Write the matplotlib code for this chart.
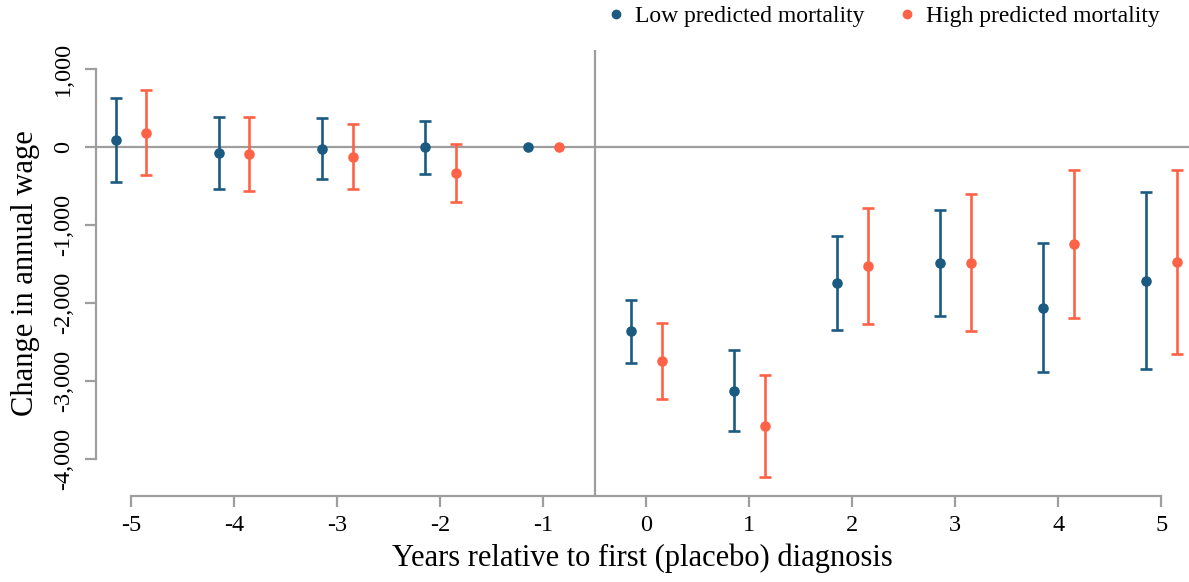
import numpy as np
import matplotlib
matplotlib.use("Agg")
import matplotlib.pyplot as plt
from matplotlib.lines import Line2D
from matplotlib.ticker import FuncFormatter

years = [-5, -4, -3, -2, -1, 0, 1, 2, 3, 4, 5]
low_est = [86, -77, -21, -4, 0, -2359, -3124, -1748, -1491, -2060, -1718]
low_hi = [624, 381, 368, 338, 0, -1957, -2603, -1141, -803, -1235, -581]
low_lo = [-453, -538, -414, -350, 0, -2765, -3645, -2350, -2171, -2880, -2850]
high_est = [184, -90, -124, -333, 0, -2744, -3577, -1530, -1491, -1244, -1472]
high_hi = [727, 389, 295, 38, 0, -2261, -2919, -786, -607, -299, -299]
high_lo = [-355, -564, -538, -705, 0, -3231, -4231, -2274, -2363, -2188, -2658]
series_names = ["Low predicted mortality", "High predicted mortality"]
y_ticks = [1000, 0, -1000, -2000, -3000, -4000]

BLUE = "#1b5b82"
ORANGE = "#ff6347"
GRAY = "#9e9e9e"

plt.rcParams['font.family'] = ['Liberation Serif', 'DejaVu Serif']

W, H = 1189, 582
fig = plt.figure(figsize=(W / 100, H / 100), dpi=100)
ax = fig.add_axes([96 / W, (H - 496) / H, (W - 96) / W, (496 - 50) / H])

ax.set_xlim(-5.34, 5.27)
ax.set_ylim(-4474, 1244)

ax.axhline(0, color=GRAY, lw=1.6, zorder=1)
ax.axvline(-0.5, color=GRAY, lw=1.6, zorder=1)

x = np.array(years, dtype=float)
for est, lo, hi, col, off in [
    (low_est, low_lo, low_hi, BLUE, -0.15),
    (high_est, high_lo, high_hi, ORANGE, 0.15),
]:
    est = np.array(est, dtype=float)
    lo = np.array(lo, dtype=float)
    hi = np.array(hi, dtype=float)
    m = hi != lo
    ax.errorbar(x[m] + off, est[m], yerr=[est[m] - lo[m], hi[m] - est[m]],
                fmt='none', ecolor=col, elinewidth=1.9, capsize=4.5,
                capthick=1.9, zorder=3)
    ax.plot(x + off, est, 'o', color=col, markersize=7.6, zorder=4,
            markeredgewidth=0)

for s in ['top', 'right']:
    ax.spines[s].set_visible(False)
for s in ['left', 'bottom']:
    ax.spines[s].set_color(GRAY)
    ax.spines[s].set_linewidth(1.6)
ax.spines['left'].set_bounds(-4000, 1000)
ax.spines['bottom'].set_bounds(-5, 5)

ax.set_xticks(years)
ax.set_xticklabels([str(v) for v in years])
ax.set_yticks(y_ticks)
ax.yaxis.set_major_formatter(FuncFormatter(lambda v, p: f"{int(v):,}"))
ax.tick_params(axis='both', colors=GRAY, length=8, width=1.6, labelsize=17.5,
               labelcolor='black')
ax.tick_params(axis='x', pad=6)
ax.tick_params(axis='y', pad=8)
for lab in ax.get_yticklabels():
    lab.set_rotation(90)
    lab.set_va('center')

ax.set_xlabel("Years relative to first (placebo) diagnosis", fontsize=22, labelpad=5)
ax.set_ylabel("Change in annual wage", fontsize=22)
ax.yaxis.set_label_coords((40 - 96) / (W - 96), 0.5)

handles = [Line2D([], [], marker='o', ls='none', color=BLUE, markersize=6),
           Line2D([], [], marker='o', ls='none', color=ORANGE, markersize=6)]
fig.legend(handles, series_names, loc='upper right',
           bbox_to_anchor=((W - 20) / W, 1.006),
           ncol=2, frameon=False, fontsize=17, handletextpad=0.0,
           columnspacing=1.0, borderaxespad=0.0, handlelength=1.6)

fig.savefig("out.png", dpi=100)
